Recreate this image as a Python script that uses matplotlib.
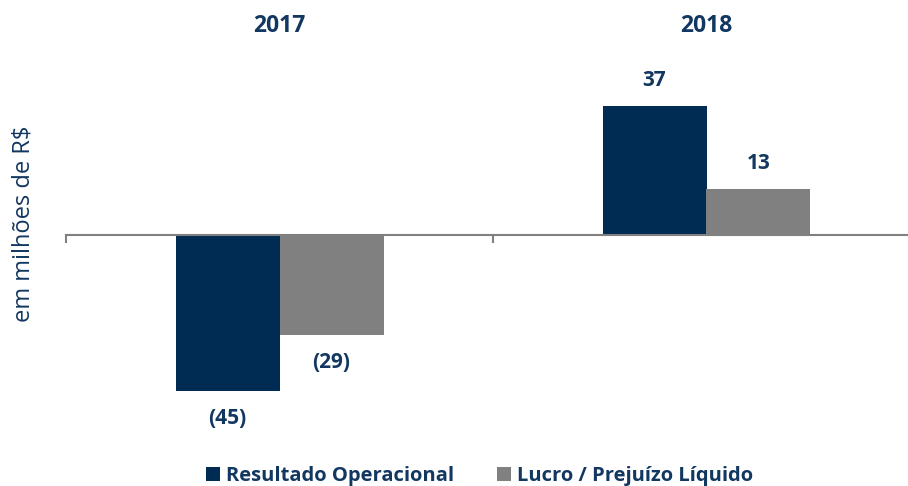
import matplotlib
matplotlib.use("Agg")
import matplotlib.pyplot as plt
from matplotlib.patches import Patch
from matplotlib.transforms import blended_transform_factory

years = ["2017", "2018"]
resultado_operacional = [-45, 37]
lucro_prejuizo = [-29, 13]
labels_ro = ["(45)", "37"]
labels_lp = ["(29)", "13"]
series_names = ["Resultado Operacional", "Lucro / Prejuízo Líquido"]

NAVY = "#002C54"
GRAY = "#808080"
TEXT = "#123760"

plt.rcParams['font.family'] = ['Open Sans', 'DejaVu Sans']

W, H = 908, 486
fig = plt.figure(figsize=(W / 100, H / 100), dpi=100)
ppu = 3.47
ymin, ymax = -60, 50
zero_px = 234.5
bottom_px = zero_px + (-ymin) * ppu
ax = fig.add_axes([66 / W, (H - bottom_px) / H, 854 / W, (ymax - ymin) * ppu / H])
ax.set_xlim(-0.5, 1.5)
ax.set_ylim(ymin, ymax)

w = 104 / 427
x = list(range(len(years)))
b1 = ax.bar([i - w / 2 for i in x], resultado_operacional, width=w, color=NAVY)
b2 = ax.bar([i + w / 2 for i in x], lucro_prejuizo, width=w, color=GRAY)

for bars, labs in ((b1, labels_ro), (b2, labels_lp)):
    for rect, lab in zip(bars, labs):
        h = rect.get_height()
        cx = rect.get_x() + rect.get_width() / 2
        off = 18.5 if h >= 0 else -20
        ax.annotate(lab, (cx, h), xytext=(0, off), textcoords="offset points",
                    ha="center", va="center", fontsize=15, fontweight="bold", color=TEXT)

trans = blended_transform_factory(ax.transData, fig.transFigure)
for i, y in zip(x, years):
    ax.text(i, 1 - 25.5 / H, y, transform=trans, ha="center", va="center",
            fontsize=16.5, fontweight="bold", color=TEXT)

for s in ("top", "right", "left"):
    ax.spines[s].set_visible(False)
ax.spines["bottom"].set_position(("data", 0))
ax.spines["bottom"].set_color(GRAY)
ax.spines["bottom"].set_linewidth(1.5)
ax.set_xticks([-0.5, 0.5, 1.5])
ax.set_xticklabels([])
ax.tick_params(axis="x", direction="out", length=6, width=1.5, color=GRAY)
ax.set_yticks([])

fig.text(24 / W, 1 - 223.5 / H, "em milhões de R$", rotation=90, ha="center", va="center",
         fontsize=17, color=TEXT)

handles = [Patch(facecolor=NAVY), Patch(facecolor=GRAY)]
leg = fig.legend(handles, series_names, loc="center", bbox_to_anchor=(479.5 / W, 1 - 476 / H),
                 ncol=2, frameon=False, handlelength=0.69, handleheight=0.69,
                 handletextpad=0.3, columnspacing=2.1, borderaxespad=0, borderpad=0,
                 prop={"size": 14.5, "weight": "bold"})
for t in leg.get_texts():
    t.set_color(TEXT)

fig.savefig("out.png", dpi=100)
